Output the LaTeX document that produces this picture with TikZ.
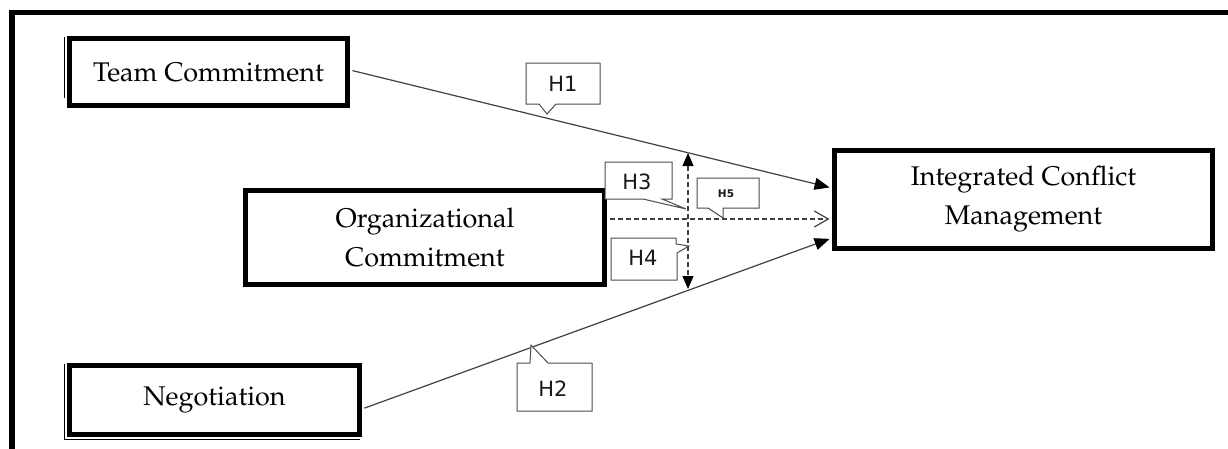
\documentclass[tikz,border=0pt]{standalone}
\usepackage[T1]{fontenc}
\usepackage{fontspec}
\newfontfamily\calfont{DejaVu Sans}
\usetikzlibrary{arrows.meta}
\newcommand{\palfont}{\fontencoding{T1}\fontfamily{ppl}\fontsize{27}{39}\selectfont}
\begin{document}
\begin{tikzpicture}[x=1pt,y=-1pt,
  box/.style={draw=black, line width=5pt, fill=white, align=center, font=\palfont, inner sep=0pt},
  conn/.style={draw=black!75, line width=1.2pt},
  callout/.style={draw=black!70, line width=1pt, fill=white, line join=miter},
  ctext/.style={font=\calfont\fontsize{21}{24}\selectfont, text=black!90, inner sep=0pt},
  filltip/.style={-{Triangle[length=15pt,width=12pt,color=black]}},
]
\clip (0,0) rectangle (1228,448);
% outer frame
\draw[line width=5.5pt] (1240,12.5) -- (12,12.5) -- (12,460);
% shadow lines
\draw[line width=1pt] (64,37) -- (64,98);
\draw[line width=1pt] (64,364) -- (64,439.5) -- (360,439.5);
% boxes
\node[box, minimum width=278pt, minimum height=67pt] (tc) at (208.5,72) {Team Commitment};
\node[box, minimum width=359pt, minimum height=94pt] (org) at (425,237.5) {Organizational\\Commitment};
\node[box, minimum width=290pt, minimum height=69pt] (neg) at (214.5,400) {Negotiation};
\node[box, minimum width=378pt, minimum height=98pt] (icm) at (1023.5,199.5) {Integrated Conflict\\Management};
% connectors
\draw[conn, filltip, shorten <=2.5pt, shorten >=2.5pt] ([yshift=2pt]tc.east) -- ([yshift=11.5pt]icm.west);
\draw[conn, filltip, shorten <=2.5pt, shorten >=2.5pt] ([yshift=-9pt]neg.east) -- ([yshift=-38.5pt]icm.west);
\draw[conn, dash pattern=on 5pt off 3pt, -{Straight Barb[length=14pt,width=16pt]}, shorten <=2.5pt, shorten >=2.5pt] ([yshift=18.5pt]org.east) -- ([yshift=-19.5pt]icm.west);
\coordinate (vt) at (688,153);
\coordinate (vb) at (688,289);
\draw[conn, dash pattern=on 5pt off 3pt, {Triangle[length=13pt,width=11pt,color=black]}-{Triangle[length=13pt,width=11pt,color=black]}] (vt) -- (vb);
% callouts
\draw[callout] (526,63) -- (600,63) -- (600,104) -- (556,104) -- (547,114) -- (539,104) -- (526,104) -- cycle;
\node[ctext] (h1) at (563,83.5) {H1};
\draw[callout] (517,363) -- (530,363) -- (531,345) -- (548,363) -- (592,363) -- (592,411) -- (517,411) -- cycle;
\node[ctext] (h2) at (553,388.5) {H2};
\draw[callout] (605,162) -- (672,162) -- (672,199) -- (662,199) -- (686,209) -- (643,199) -- (605,199) -- cycle;
\node[ctext] (h3) at (637,182) {H3};
\draw[callout] (611,238) -- (676,238) -- (676,244) -- (689,246) -- (677,253) -- (677,280) -- (611,280) -- cycle;
\node[ctext] (h4) at (643,258) {H4};
\draw[callout] (697,178) -- (759,178) -- (759,208) -- (723,208) -- (723,218) -- (708,208) -- (697,208) -- cycle;
\node[ctext, font=\calfont\bfseries\fontsize{10.5}{12}\selectfont] (h5) at (726,193.5) {H5};
\end{tikzpicture}
\end{document}
